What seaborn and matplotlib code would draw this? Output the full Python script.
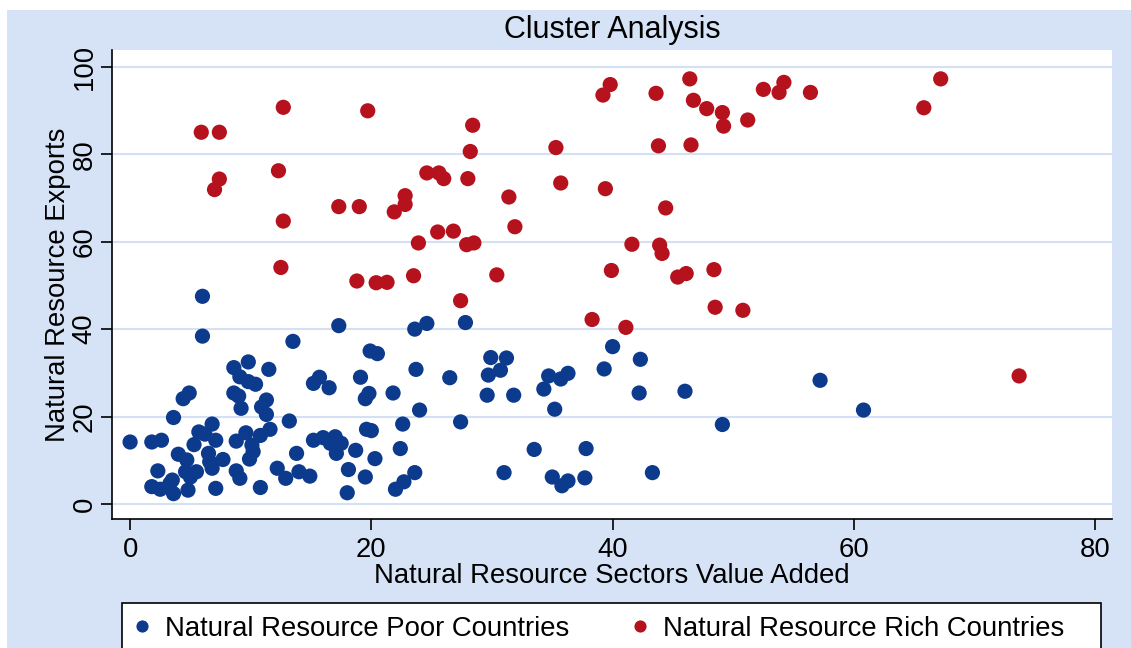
import pandas as pd
import seaborn as sns
import matplotlib.pyplot as plt
from matplotlib.patches import Rectangle

# Natural resource poor countries (value added, exports)
poor_x = [6.0, 6.0, 13.5, 9.8, 8.6, 11.5, 9.1, 9.8, 10.4, 4.9, 4.4, 8.6, 9.0, 11.3,
          9.2, 10.9, 11.3, 3.6, 13.2, 6.8, 5.7, 6.2, 9.6, 11.6, 10.8, 0.0, 1.8, 2.6,
          7.1, 8.8, 5.3, 10.1, 10.2, 13.8, 4.0, 4.7, 6.5, 6.6, 7.7, 9.9, 6.8, 8.8,
          12.2, 2.3, 4.6, 5.5, 5.0, 3.5, 9.1, 12.9, 1.8, 2.5, 3.6, 4.8, 7.1, 10.8,
          3.3, 17.3, 23.6, 24.6, 27.8, 19.9, 20.5, 23.7, 26.5, 15.7, 15.2, 16.5,
          19.1, 19.8, 19.5, 21.8, 24.0, 27.4, 22.6, 19.6, 20.0, 15.2, 16.0, 17.0,
          17.5, 16.6, 17.1, 18.7, 22.4, 20.3, 18.1, 19.5, 23.6, 22.7, 22.0, 18.0,
          14.0, 14.9, 29.9, 31.2, 30.7, 29.7, 29.6, 31.8, 34.7, 36.3, 35.7, 34.3,
          35.2, 40.0, 42.3, 39.3, 42.2, 33.5, 37.8, 31.0, 35.0, 36.3, 35.8, 37.7,
          43.3, 46.0, 57.2, 60.8, 49.1]
poor_y = [47.5, 38.4, 37.2, 32.5, 31.2, 30.8, 29.1, 28.0, 27.4, 25.4, 24.1, 25.4,
          24.7, 23.8, 21.9, 22.2, 20.5, 19.8, 19.0, 18.3, 16.5, 16.0, 16.3, 17.1,
          15.7, 14.2, 14.2, 14.6, 14.6, 14.4, 13.6, 13.5, 12.0, 11.6, 11.4, 10.1,
          11.6, 9.7, 10.2, 10.3, 8.2, 7.6, 8.2, 7.6, 7.4, 7.4, 6.2, 5.5, 5.9, 5.9,
          4.0, 3.4, 2.4, 3.2, 3.6, 3.8, 4.7, 40.8, 40.0, 41.3, 41.5, 35.0, 34.4,
          30.8, 28.9, 29.0, 27.6, 26.6, 29.0, 25.3, 24.1, 25.4, 21.5, 18.8, 18.3,
          17.1, 16.8, 14.6, 15.2, 15.4, 13.9, 13.9, 11.6, 12.3, 12.7, 10.4, 7.9,
          6.2, 7.2, 5.1, 3.4, 2.6, 7.4, 6.4, 33.5, 33.4, 30.6, 29.5, 24.9, 24.9,
          29.3, 29.9, 28.6, 26.3, 21.7, 36.0, 33.1, 30.9, 25.4, 12.5, 12.7, 7.2,
          6.2, 5.3, 4.2, 6.0, 7.2, 25.8, 28.3, 21.5, 18.2]

# Natural resource rich countries
rich_x = [5.9, 7.4, 12.7, 19.7, 12.3, 7.4, 7.0, 28.4, 28.2, 24.6, 25.6, 26.0, 28.0,
          31.4, 22.8, 22.8, 17.3, 19.0, 21.9, 12.7, 31.9, 25.5, 26.8, 23.9, 27.9,
          28.5, 12.5, 18.8, 20.4, 21.3, 23.5, 30.4, 27.4, 39.8, 39.2, 43.6, 46.4,
          46.7, 47.8, 49.1, 49.2, 51.2, 52.5, 54.2, 53.8, 56.4, 65.8, 67.2, 35.3,
          43.8, 46.5, 35.7, 39.4, 44.4, 41.6, 43.9, 44.1, 39.9, 45.4, 46.1, 48.4,
          48.5, 50.8, 38.3, 41.1, 73.7]
rich_y = [85.0, 85.0, 90.7, 89.9, 76.2, 74.3, 71.9, 86.6, 80.6, 75.7, 75.7, 74.4,
          74.4, 70.2, 70.5, 68.5, 68.0, 68.0, 66.8, 64.7, 63.4, 62.2, 62.4, 59.7,
          59.3, 59.7, 54.1, 51.0, 50.6, 50.7, 52.2, 52.4, 46.5, 95.9, 93.5, 93.9,
          97.2, 92.3, 90.4, 89.5, 86.4, 87.8, 94.8, 96.4, 94.1, 94.1, 90.6, 97.2,
          81.5, 81.9, 82.1, 73.4, 72.1, 67.7, 59.4, 59.2, 57.3, 53.4, 51.9, 52.7,
          53.6, 45.0, 44.3, 42.2, 40.4, 29.3]

groups = ["Natural Resource Poor Countries", "Natural Resource Rich Countries"]
colors = ["#0C3A8C", "#B5121D"]

df = pd.concat([
    pd.DataFrame({"va": poor_x, "exp": poor_y, "group": groups[0]}),
    pd.DataFrame({"va": rich_x, "exp": rich_y, "group": groups[1]}),
])

sns.set_style("white")
plt.rcParams["font.family"] = ["Liberation Sans", "DejaVu Sans"]
plt.rcParams["text.color"] = "black"
plt.rcParams["axes.labelcolor"] = "black"
plt.rcParams["xtick.color"] = "black"
plt.rcParams["ytick.color"] = "black"

W, H = 1131, 648
fs = 19.8
fig = plt.figure(figsize=(W / 100, H / 100), dpi=100, facecolor="white")

# light blue graph region
fig.patches.append(Rectangle((7 / W, 0), 1, (H - 10) / H, transform=fig.transFigure,
                             facecolor="#D6E2F6", edgecolor="none", zorder=-2))

ax = fig.add_axes([112 / W, (H - 519) / H, 1000 / W, 469 / H])
ax.set_zorder(1)
ax.set_facecolor("white")

sns.scatterplot(data=df, x="va", y="exp", hue="group", palette=colors,
                hue_order=groups, s=120, edgecolor="none", ax=ax, zorder=3)

ax.set_xlim(-1.5, 81.4)
ax.set_ylim(-3.4, 103.8)
ax.set_xticks([0, 20, 40, 60, 80])
ax.set_yticks([0, 20, 40, 60, 80, 100])
ax.yaxis.grid(True, color="#D4E1F5", lw=1.5, zorder=0)
ax.xaxis.grid(False)
for side in ["top", "right"]:
    ax.spines[side].set_visible(False)
for side in ["left", "bottom"]:
    ax.spines[side].set_color("black")
    ax.spines[side].set_linewidth(1.2)

ax.tick_params(axis="both", direction="out", length=8, width=1.2, color="black",
               labelsize=fs, left=True, bottom=True)
ax.tick_params(axis="x", pad=5)
ax.tick_params(axis="y", pad=2.5)
plt.setp(ax.get_yticklabels(), rotation=90, va="center")

ax.set_xlabel("Natural Resource Sectors Value Added", fontsize=fs, labelpad=0)
ax.set_ylabel("Natural Resource Exports", fontsize=fs, labelpad=0)

fig.text(612 / W, (H - 30) / H, "Cluster Analysis", ha="center", va="center", fontsize=22)

# legend box, clipped by the bottom of the image
fig.patches.append(Rectangle((122 / W, -0.05), 979 / W, (H - 603) / H + 0.05,
                             transform=fig.transFigure, facecolor="white",
                             edgecolor="black", lw=1.2, zorder=-1))
handles, labels = ax.get_legend_handles_labels()
ax.legend_.remove()
leg = fig.legend(handles, labels, loc="center left",
                 bbox_to_anchor=(125.5 / W, (H - 629) / H),
                 ncol=2, frameon=False, fontsize=fs, markerscale=0.8,
                 handlelength=1.2, handletextpad=0.25, columnspacing=1.95,
                 borderaxespad=0, borderpad=0)
leg.set_zorder(5)

fig.savefig("out.png", dpi=100, facecolor="white")
